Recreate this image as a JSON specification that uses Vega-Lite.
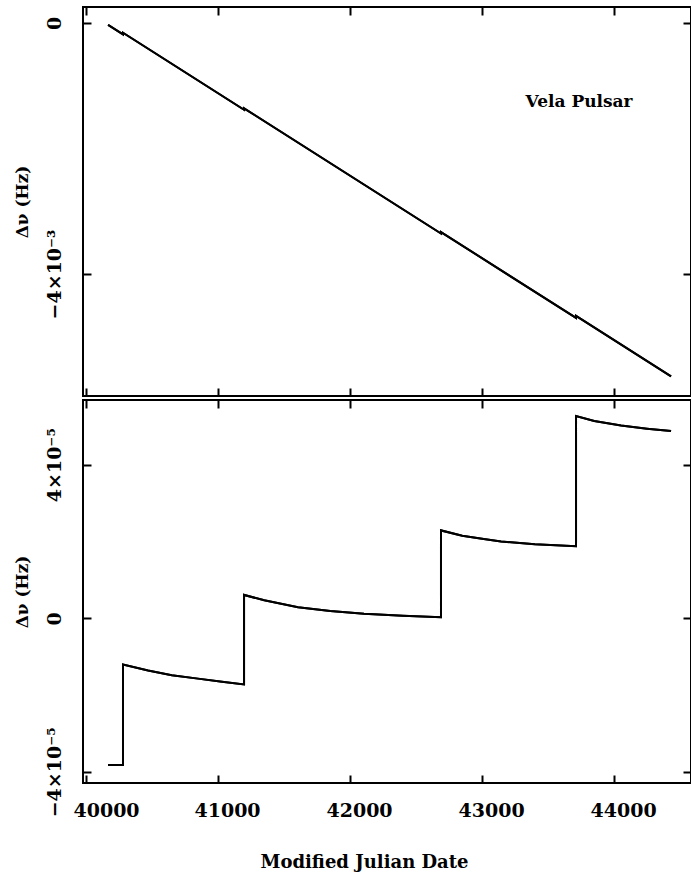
{
  "$schema": "https://vega.github.io/schema/vega-lite/v6.json",
  "background": "white",
  "padding": {"left": 12, "top": 5, "right": 0, "bottom": 0},
  "spacing": 0,
  "datasets": {
    "trend": [
      {"i": 0, "mjd": 40167, "dnu": -0.000030},
      {"i": 1, "mjd": 40280, "dnu": -0.000181},
      {"i": 2, "mjd": 40280, "dnu": -0.000155},
      {"i": 3, "mjd": 41197, "dnu": -0.001383},
      {"i": 4, "mjd": 41197, "dnu": -0.001359},
      {"i": 5, "mjd": 42689, "dnu": -0.003354},
      {"i": 6, "mjd": 42689, "dnu": -0.003332},
      {"i": 7, "mjd": 43712, "dnu": -0.004700},
      {"i": 8, "mjd": 43712, "dnu": -0.004666},
      {"i": 9, "mjd": 44432, "dnu": -0.005630}
    ],
    "resid": [
      {"i": 0, "mjd": 40167, "dnu": -3.82e-5},
      {"i": 1, "mjd": 40280, "dnu": -3.82e-5},
      {"i": 2, "mjd": 40280, "dnu": -1.20e-5},
      {"i": 3, "mjd": 40470, "dnu": -1.36e-5},
      {"i": 4, "mjd": 40650, "dnu": -1.48e-5},
      {"i": 5, "mjd": 40848, "dnu": -1.57e-5},
      {"i": 6, "mjd": 41030, "dnu": -1.65e-5},
      {"i": 7, "mjd": 41197, "dnu": -1.72e-5},
      {"i": 8, "mjd": 41197, "dnu": 0.61e-5},
      {"i": 9, "mjd": 41350, "dnu": 0.47e-5},
      {"i": 10, "mjd": 41606, "dnu": 0.29e-5},
      {"i": 11, "mjd": 41850, "dnu": 0.19e-5},
      {"i": 12, "mjd": 42106, "dnu": 0.12e-5},
      {"i": 13, "mjd": 42400, "dnu": 0.07e-5},
      {"i": 14, "mjd": 42689, "dnu": 0.03e-5},
      {"i": 15, "mjd": 42689, "dnu": 2.29e-5},
      {"i": 16, "mjd": 42850, "dnu": 2.15e-5},
      {"i": 17, "mjd": 43000, "dnu": 2.07e-5},
      {"i": 18, "mjd": 43144, "dnu": 2.00e-5},
      {"i": 19, "mjd": 43400, "dnu": 1.93e-5},
      {"i": 20, "mjd": 43712, "dnu": 1.88e-5},
      {"i": 21, "mjd": 43712, "dnu": 5.27e-5},
      {"i": 22, "mjd": 43850, "dnu": 5.14e-5},
      {"i": 23, "mjd": 44053, "dnu": 5.02e-5},
      {"i": 24, "mjd": 44250, "dnu": 4.94e-5},
      {"i": 25, "mjd": 44432, "dnu": 4.88e-5}
    ],
    "note": [
      {"mjd": 43735, "dnu": -0.00126, "label": "Vela Pulsar"}
    ]
  },
  "config": {
    "font": "DejaVu Serif",
    "view": {"stroke": "black", "strokeWidth": 2},
    "axis": {
      "domain": false,
      "grid": false,
      "ticks": true,
      "tickSize": -8,
      "tickWidth": 2,
      "tickColor": "black",
      "labelColor": "black",
      "titleColor": "black",
      "labelFont": "DejaVu Serif",
      "titleFont": "DejaVu Serif",
      "labelFontWeight": "bold",
      "titleFontWeight": "bold",
      "labelFontSize": 19,
      "titleFontSize": 17
    },
    "line": {"color": "black", "strokeWidth": 2}
  },
  "vconcat": [
    {
      "width": 608,
      "height": 389,
      "layer": [
        {
          "data": {"name": "trend"},
          "mark": "line",
          "encoding": {
            "x": {"field": "mjd", "type": "quantitative",
              "scale": {"domain": [39977, 44583], "nice": false, "zero": false},
              "axis": {"orient": "bottom", "values": [40000, 41000, 42000, 43000, 44000], "labels": false, "title": null}},
            "y": {"field": "dnu", "type": "quantitative",
              "scale": {"domain": [-0.005944, 0.000255], "nice": false, "zero": false},
              "axis": {"orient": "left", "values": [0, -0.004], "title": "Δν (Hz)", "titlePadding": 14,
                "labelAngle": -90, "labelAlign": "center", "labelBaseline": "bottom", "labelPadding": 27,
                "labelExpr": "datum.value == 0 ? '0' : '−4×10⁻³'"}},
            "order": {"field": "i", "type": "quantitative"}
          }
        },
        {
          "data": {"name": "trend"},
          "mark": "line",
          "encoding": {
            "x": {"field": "mjd", "type": "quantitative",
              "axis": {"orient": "top", "values": [40000, 41000, 42000, 43000, 44000], "labels": false, "title": null}},
            "y": {"field": "dnu", "type": "quantitative",
              "axis": {"orient": "right", "values": [0, -0.004], "labels": false, "title": null}},
            "order": {"field": "i", "type": "quantitative"}
          }
        },
        {
          "data": {"name": "note"},
          "mark": {"type": "text", "font": "DejaVu Serif", "fontWeight": "bold", "fontSize": 17, "color": "black", "align": "center", "baseline": "middle"},
          "encoding": {
            "x": {"field": "mjd", "type": "quantitative", "axis": null},
            "y": {"field": "dnu", "type": "quantitative", "axis": null},
            "text": {"field": "label"}
          }
        }
      ],
      "resolve": {"axis": {"x": "independent", "y": "independent"}}
    },
    {
      "width": 608,
      "height": 383,
      "layer": [
        {
          "data": {"name": "resid"},
          "mark": "line",
          "encoding": {
            "x": {"field": "mjd", "type": "quantitative",
              "scale": {"domain": [39977, 44583], "nice": false, "zero": false},
              "axis": {"orient": "bottom", "values": [40000, 41000, 42000, 43000, 44000], "title": "Modified Julian Date",
                "labelPadding": 26, "titlePadding": 33, "titleFontSize": 18, "format": "d", "labelFlush": false,
                "titleX": 281, "titleAnchor": "start", "titleAlign": "center",
                "labelOffset": {"condition": {"test": "datum.value === 40000", "value": 20}, "value": 9}}},
            "y": {"field": "dnu", "type": "quantitative",
              "scale": {"domain": [-4.288e-5, 5.686e-5], "nice": false, "zero": false},
              "axis": {"orient": "left", "values": [-0.00004, 0, 0.00004], "title": "Δν (Hz)", "titlePadding": 14,
                "labelAngle": -90, "labelAlign": "center", "labelBaseline": "bottom", "labelPadding": 27,
                "labelExpr": "datum.value > 0 ? '4×10⁻⁵' : (datum.value < 0 ? '−4×10⁻⁵' : '0')"}},
            "order": {"field": "i", "type": "quantitative"}
          }
        },
        {
          "data": {"name": "resid"},
          "mark": "line",
          "encoding": {
            "x": {"field": "mjd", "type": "quantitative",
              "axis": {"orient": "top", "values": [40000, 41000, 42000, 43000, 44000], "labels": false, "title": null}},
            "y": {"field": "dnu", "type": "quantitative",
              "axis": {"orient": "right", "values": [-0.00004, 0, 0.00004], "labels": false, "title": null}},
            "order": {"field": "i", "type": "quantitative"}
          }
        }
      ],
      "resolve": {"axis": {"x": "independent", "y": "independent"}}
    }
  ]
}
